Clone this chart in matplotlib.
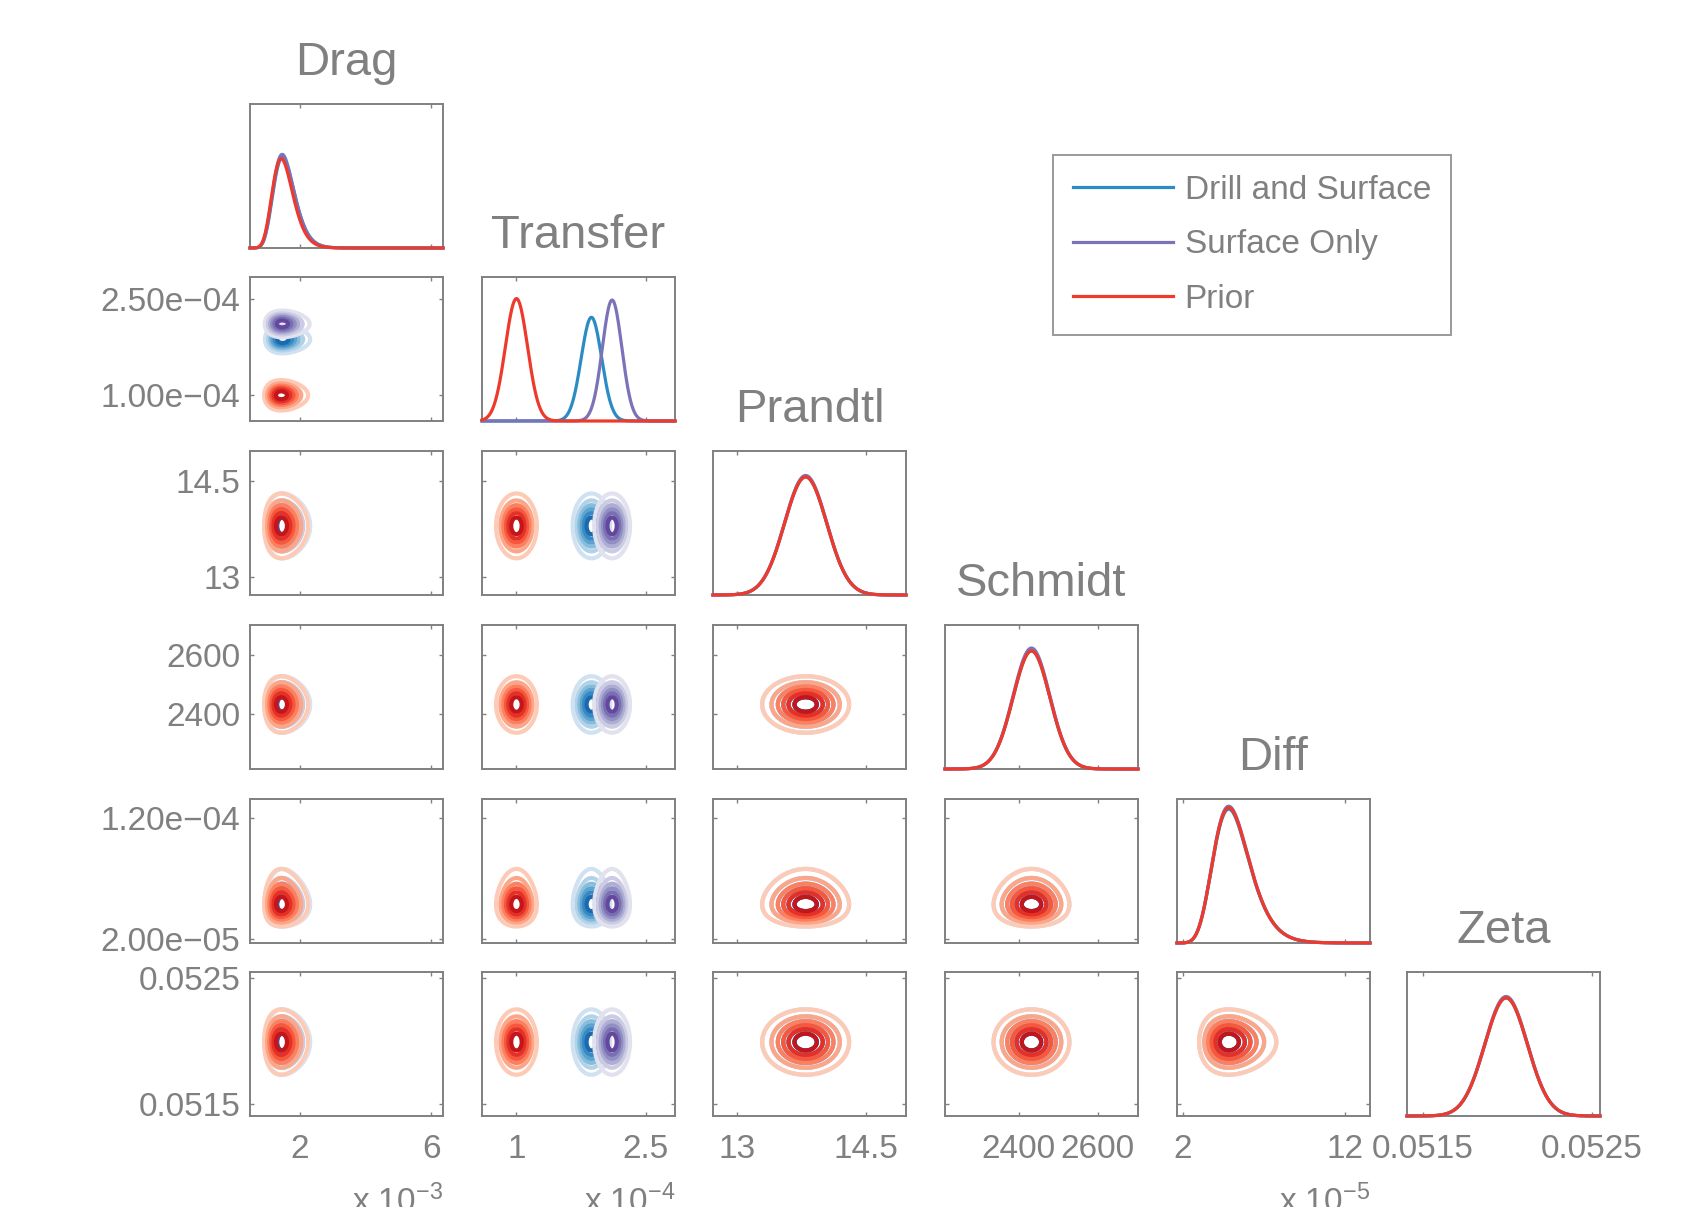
import numpy as np
import matplotlib
matplotlib.use('Agg')
import matplotlib.pyplot as plt
from matplotlib.lines import Line2D

plt.rcParams['font.family'] = ['Liberation Sans', 'DejaVu Sans']
plt.rcParams['mathtext.default'] = 'regular'

# ---------------- data ----------------
params = ['Drag', 'Transfer', 'Prandtl', 'Schmidt', 'Diff', 'Zeta']
series = ['Drill and Surface', 'Surface Only', 'Prior']
shape = ['lognormal', 'normal', 'normal', 'normal', 'lognormal', 'normal']

drill_mode = [1.47e-3, 1.87e-4, 13.80, 2432, 4.84e-5, 0.051992]
surface_mode = [1.46e-3, 2.11e-4, 13.80, 2432, 4.84e-5, 0.051992]
prior_mode = [1.43e-3, 1.00e-4, 13.80, 2432, 4.84e-5, 0.051992]
# spread: log-sd for lognormal, sd for normal
drill_spread = [0.22, 0.106e-4, 0.246, 46.8, 0.23, 0.000126]
surface_spread = [0.22, 0.101e-4, 0.246, 46.8, 0.23, 0.000126]
prior_spread = [0.22, 0.115e-4, 0.246, 46.8, 0.23, 0.000126]
# the 1-D densities of Transfer are a little wider than its 2-D contours
diag_width_factor = [1.0, 1.12, 1.0, 1.0, 1.0, 1.0]
# peak height of each 1-D density (fraction of panel height)
drill_peak = [0.63, 0.72, 0.82, 0.82, 0.93, 0.82]
surface_peak = [0.65, 0.84, 0.83, 0.84, 0.95, 0.83]
prior_peak = [0.62, 0.85, 0.82, 0.82, 0.94, 0.82]

axis_lo = [0.48e-3, 0.60e-4, 12.72, 2212, 1.65e-5, 0.051405]
axis_hi = [6.36e-3, 2.84e-4, 14.97, 2703, 13.55e-5, 0.052548]

tick_vals = [[2e-3, 6e-3], [1e-4, 2.5e-4], [13, 14.5], [2400, 2600],
             [2e-5, 12e-5], [0.0515, 0.0525]]
x_tick_labels = [['2', '6'], ['1', '2.5'], ['13', '14.5'], ['2400', '2600'],
                 ['2', '12'], ['0.0515', '0.0525']]
y_tick_labels = [['', ''], ['1.00e\u221204', '2.50e\u221204'], ['13', '14.5'],
                 ['2400', '2600'], ['2.00e\u221205', '1.20e\u221204'],
                 ['0.0515', '0.0525']]
exp_labels = ['x 10$^{-3}$', 'x 10$^{-4}$', '', '', 'x 10$^{-5}$', '']

contour_levels = [0.12, 0.27, 0.42, 0.57, 0.72, 0.87]

# ---------------- style ----------------
W, H = 1699, 1207
col_left = [250, 482, 713, 945, 1177, 1407]
row_top = [104, 277, 451, 625, 799, 972]
aw, ah = 193, 144
gray = '#808080'
line_colors = ['#2b8cc4', '#7b73b8', '#ee3a2c']
cmaps = ['Blues', 'Purples', 'Reds']

modes = [drill_mode, surface_mode, prior_mode]
spreads = [drill_spread, surface_spread, prior_spread]
peaks = [drill_peak, surface_peak, prior_peak]


def marginal(k, mode, spread, x):
    if shape[k] == 'lognormal':
        mu = np.log(mode) + spread ** 2
        f = np.exp(-(np.log(x) - mu) ** 2 / (2 * spread ** 2)) / x
    else:
        f = np.exp(-(x - mode) ** 2 / (2 * spread ** 2))
    return f / f.max()


fig = plt.figure(figsize=(W / 100, H / 100), dpi=100)
n = len(params)
grids = [np.linspace(axis_lo[k], axis_hi[k], 400) for k in range(n)]

for i in range(n):
    for j in range(i + 1):
        ax = fig.add_axes([col_left[j] / W, 1 - (row_top[i] + ah) / H, aw / W, ah / H])
        ax.set_xlim(axis_lo[j], axis_hi[j])
        if i == j:
            x = grids[j]
            for s in range(3):
                ax.plot(x, peaks[s][j] * marginal(j, modes[s][j],
                                                  spreads[s][j] * diag_width_factor[j], x),
                        color=line_colors[s], lw=2.3, clip_on=False, zorder=3 + s)
            ax.set_ylim(0, 1)
            ax.set_yticks([])
            ax.text(0.5, 1 + 29 / ah, params[j], transform=ax.transAxes,
                    ha='center', va='baseline', fontsize=34, color=gray)
        else:
            x = grids[j]
            y = grids[i]
            X, Y = np.meshgrid(x, y)
            for s in range(3):
                fx = marginal(j, modes[s][j], spreads[s][j], x)
                fy = marginal(i, modes[s][i], spreads[s][i], y)
                Z = np.outer(fy, fx)
                cols = plt.get_cmap(cmaps[s])(np.linspace(0.2, 0.78, len(contour_levels)))
                ax.contour(X, Y, Z, levels=contour_levels, colors=cols,
                           linewidths=3.0, zorder=2 + s)
            ax.set_ylim(axis_lo[i], axis_hi[i])
            ax.set_yticks(tick_vals[i])
            if j == 0:
                ax.set_yticklabels(y_tick_labels[i])
            else:
                ax.set_yticklabels([])
        ax.set_xticks(tick_vals[j])
        if i == n - 1:
            ax.set_xticklabels(x_tick_labels[j])
            if exp_labels[j]:
                fig.text((col_left[j] + aw) / W, -5 / H, exp_labels[j],
                         ha='right', va='baseline', fontsize=24, color=gray)
        else:
            ax.set_xticklabels([])
        ax.tick_params(axis='both', direction='in', length=3, width=1,
                       color=gray, labelcolor=gray, labelsize=24,
                       top=True, right=(i != j))
        ax.tick_params(axis='y', pad=7)
        ax.tick_params(axis='x', pad=13)
        for sp in ax.spines.values():
            sp.set_color(gray)
            sp.set_linewidth(1.4)

handles = [Line2D([], [], color=c, lw=2.3) for c in line_colors]
leg = fig.legend(handles, series, loc='upper left',
                 bbox_to_anchor=(1053 / W, 1 - 155 / H), borderaxespad=0,
                 fontsize=24, handlelength=3.0, handletextpad=0.35,
                 labelspacing=0.7, borderpad=0.6, fancybox=False,
                 labelcolor=gray, edgecolor=gray)
leg.get_frame().set_linewidth(1.4)

fig.savefig('out.png', dpi=100, facecolor='white')
